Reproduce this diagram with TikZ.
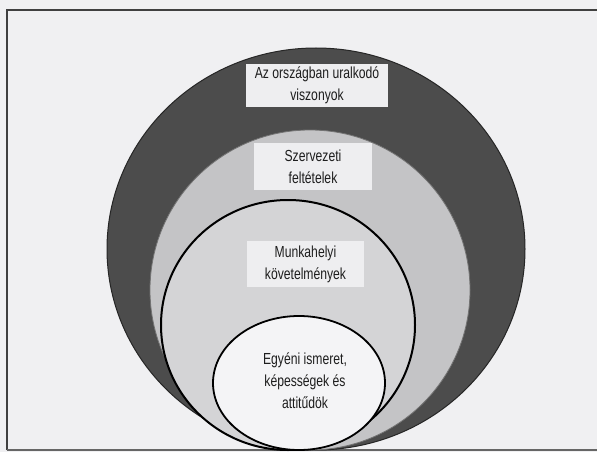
\documentclass[tikz,border=0pt]{standalone}
\usepackage{fontspec}
\setmainfont{Liberation Sans}[FakeStretch=0.76]
\definecolor{bgcol}{RGB}{240,240,242}
\definecolor{darkfill}{RGB}{76,76,76}
\definecolor{midfill}{RGB}{196,196,198}
\definecolor{lightfill}{RGB}{212,212,214}
\definecolor{whitefill}{RGB}{244,244,246}
\definecolor{boxfill}{RGB}{238,238,240}
\definecolor{textcol}{RGB}{30,30,30}
\tikzset{
  lbl/.style={fill=boxfill, inner sep=0pt, align=center, text=textcol,
    font=\fontsize{16}{22}\selectfont},
  lbltxt/.style={inner sep=0pt, align=center, text=textcol,
    font=\fontsize{16}{22}\selectfont},
}
\begin{document}
\begin{tikzpicture}[x=1pt,y=-1pt]
\useasboundingbox (0,0) rectangle (597,452);
\fill[bgcol] (0,0) rectangle (597,452);
\draw[line width=2pt, black!75] (7,450) -- (7,10) -- (597,10);
\draw[line width=1.5pt, black!60] (7,450) -- (597,450);
% ellipses
\filldraw[fill=darkfill, draw=black!85, line width=1pt] (316,249) ellipse [x radius=209, y radius=201];
\filldraw[fill=midfill, draw=black!55, line width=0.8pt] (310,290) ellipse [x radius=160, y radius=160];
\filldraw[fill=lightfill, draw=black, line width=2pt] (288,325) ellipse [x radius=127, y radius=125];
\filldraw[fill=whitefill, draw=black, line width=1.8pt] (299,383) ellipse [x radius=86, y radius=67];
% labels
\node[lbl, minimum width=142pt, minimum height=43pt] (orszag) at (317,85.5) {Az országban uralkodó\\viszonyok};
\node[lbl, minimum width=118pt, minimum height=47pt] (szerv) at (313,166.5) {Szervezeti\\feltételek};
\node[lbl, minimum width=117pt, minimum height=46pt] (munka) at (305.5,264) {Munkahelyi\\követelmények};
\node[lbltxt] (egyeni) at (305,381) {Egyéni ismeret,\\képességek és\\attitűdök};
\end{tikzpicture}
\end{document}
